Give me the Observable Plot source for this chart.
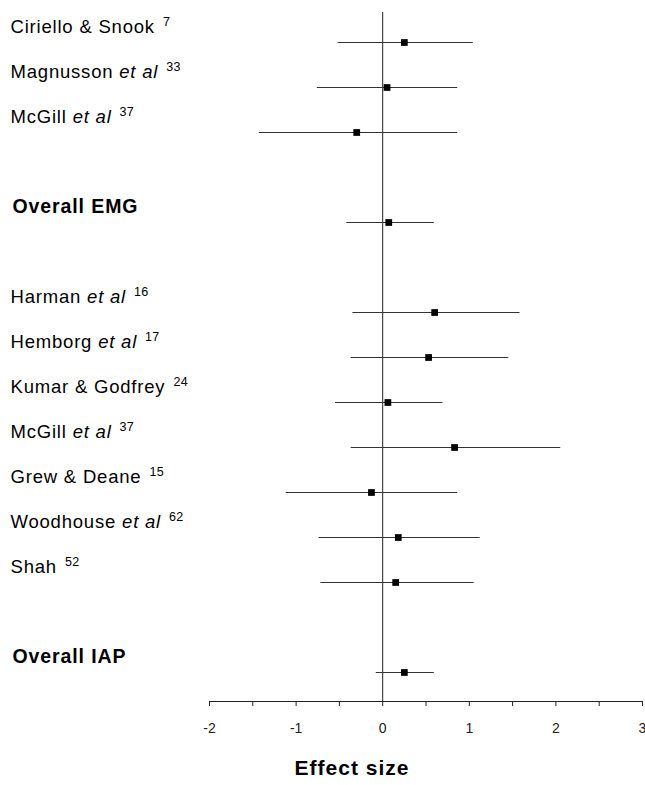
<!DOCTYPE html>
<html>
<head>
<meta charset="utf-8">
<script src="https://cdn.jsdelivr.net/npm/d3@7"></script>
<script src="https://cdn.jsdelivr.net/npm/@observablehq/plot@0.6"></script>
<style>
  body { margin: 0; background: #fff; }
  svg { font-family: "Liberation Sans", Arial, Helvetica, sans-serif; }
</style>
</head>
<body>
<div id="chart"></div>
<script>
// Study names, "et al" flags and reference numbers
const studies = ["Ciriello & Snook", "Magnusson", "McGill", "Overall EMG", "Harman", "Hemborg",
  "Kumar & Godfrey", "McGill", "Grew & Deane", "Woodhouse", "Shah", "Overall IAP"];
const etAl = [false, true, true, false, true, true, false, true, false, true, false, false];
const refs = ["7", "33", "37", "", "16", "17", "24", "37", "15", "62", "52", ""];
const isOverall = [false, false, false, true, false, false, false, false, false, false, false, true];
// Effect sizes with confidence limits
const estimate = [0.25, 0.05, -0.3, 0.07, 0.6, 0.53, 0.06, 0.83, -0.13, 0.18, 0.15, 0.25];
const lower = [-0.52, -0.76, -1.43, -0.42, -0.35, -0.37, -0.55, -0.37, -1.12, -0.74, -0.72, -0.08];
const upper = [1.04, 0.86, 0.86, 0.59, 1.58, 1.45, 0.69, 2.05, 0.86, 1.12, 1.05, 0.59];
// Row order, including blank spacer rows
const rowOrder = ["r0", "r1", "r2", "gap1", "r3", "gap2", "r4", "r5", "r6", "r7", "r8", "r9", "r10", "gap3", "r11"];
// Axis ticks
const xTicks = [-2, -1.5, -1, -0.5, 0, 0.5, 1, 1.5, 2, 2.5, 3];
const xDomain = [-2, 3];
const xTitle = "Effect size";

const rows = studies.map((name, i) => ({
  row: "r" + i, name, etAl: etAl[i], ref: refs[i], overall: isOverall[i],
  est: estimate[i], lo: lower[i], hi: upper[i]
}));

const plot = Plot.plot({
  width: 645,
  height: 785,
  marginLeft: 209,
  marginRight: 3,
  marginTop: 12,
  marginBottom: 84,
  insetTop: 23,
  insetBottom: 23,
  x: { domain: xDomain, label: null },
  y: { type: "point", domain: rowOrder, padding: 0, axis: null },
  marks: [
    Plot.frame({ anchor: "bottom", stroke: "#222", strokeWidth: 1 }),
    Plot.ruleX([0], { stroke: "#222", strokeWidth: 1 }),
    Plot.axisX(xTicks, {
      tickSize: 5, tickPadding: 17, fontSize: 14, stroke: "#222", fill: "#222",
      tickFormat: d => Number.isInteger(d) ? String(d) : "",
      label: null
    }),
    Plot.link(rows, { x1: "lo", x2: "hi", y1: "row", y2: "row", stroke: "#333", strokeWidth: 1 }),
    Plot.dot(rows, { x: "est", y: "row", symbol: "square", r: 3.8, fill: "#000", stroke: "none" }),
    Plot.text(rows.filter(d => !d.overall), {
      y: "row", text: "name", frameAnchor: "left", textAnchor: "start",
      dx: -199, dy: -15, fontSize: 18.5, fill: "#000"
    }),
    Plot.text(rows.filter(d => d.overall), {
      y: "row", text: "name", frameAnchor: "left", textAnchor: "start",
      dx: -197, dy: -16, fontSize: 19.5, fontWeight: "bold", fill: "#000"
    }),
    Plot.text([xTitle], {
      frameAnchor: "bottom", dx: -74, dy: 73, fontSize: 21, fontWeight: "bold", fill: "#000"
    })
  ]
});

// Rich text for study labels: italic "et al" and superscript reference numbers
const ns = "http://www.w3.org/2000/svg";
const studyRows = rows.filter(d => !d.overall);
const overallNames = rows.filter(d => d.overall).map(d => d.name);
let j = 0;
plot.querySelectorAll("text").forEach(t => {
  const content = t.textContent;
  if (overallNames.includes(content)) { t.setAttribute("letter-spacing", "0.9"); return; }
  if (content === xTitle) { t.setAttribute("letter-spacing", "1"); return; }
  const d = studyRows[j];
  if (!d || content !== d.name) return;
  j++;
  t.textContent = "";
  t.setAttribute("letter-spacing", "0.8");
  const a = document.createElementNS(ns, "tspan");
  a.textContent = d.name;
  t.appendChild(a);
  if (d.etAl) {
    const b = document.createElementNS(ns, "tspan");
    b.textContent = " et al";
    b.setAttribute("font-style", "italic");
    t.appendChild(b);
  }
  if (d.ref) {
    const c = document.createElementNS(ns, "tspan");
    c.textContent = d.ref;
    c.setAttribute("font-size", "12.5");
    c.setAttribute("letter-spacing", "0.3");
    c.setAttribute("dx", "8");
    c.setAttribute("dy", "-7");
    t.appendChild(c);
  }
});

document.getElementById("chart").appendChild(plot);
</script>
</body>
</html>
